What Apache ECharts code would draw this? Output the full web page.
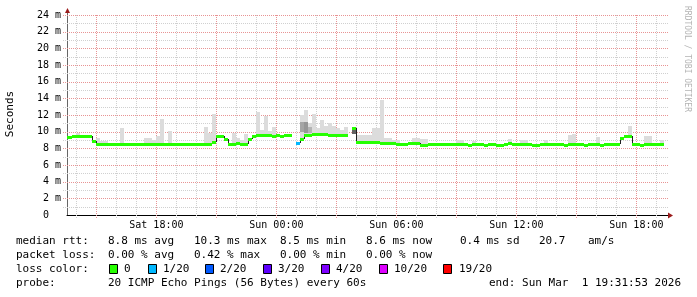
<!DOCTYPE html>
<html><head><meta charset="utf-8">
<script src="https://cdn.jsdelivr.net/npm/echarts@6/dist/echarts.min.js"></script>
<style>html,body{margin:0;padding:0;background:#fff;}#c{width:697px;height:297px;}</style>
</head><body><div id="c"></div>
<script>
// ---- time frame (hours since Sat 00:00) ----
const startHour = 13.4;        // first 12-minute bin (Sat 13:24)
const binHours = 0.2;          // 12 minutes per bin
const viewStart = 13 + 31/60 + 53/3600;
const viewEnd = viewStart + 30;

// ---- median RTT per bin (ms) ----
const median = [
 9.4,9.4,9.5,9.5,9.45,9.45,9.45,8.9,8.55,8.55,
 8.55,8.55,8.55,8.55,8.55,8.55,8.55,8.55,8.55,8.55,
 8.55,8.55,8.55,8.55,8.55,8.55,8.55,8.55,8.55,8.55,
 8.55,8.55,8.55,8.55,8.55,8.55,8.55,8.75,9.5,9.5,
 9.15,8.55,8.55,8.65,8.5,8.5,9.15,9.45,9.65,9.65,
 9.6,9.6,9.5,9.55,9.5,9.55,9.55,null,8.6,9.15,
 9.6,9.6,9.7,9.7,9.7,9.7,9.65,9.65,9.6,9.6,
 9.6,null,10.4,8.75,8.75,8.75,8.75,8.75,8.75,8.6,
 8.6,8.6,8.6,8.55,8.55,8.55,8.6,8.6,8.6,8.45,
 8.45,8.5,8.5,8.5,8.5,8.5,8.5,8.5,8.5,8.5,
 8.5,8.36,8.5,8.5,8.5,8.36,8.5,8.5,8.4,8.4,
 8.5,8.64,8.5,8.5,8.5,8.5,8.5,8.36,8.36,8.5,
 8.5,8.5,8.5,8.5,8.5,8.38,8.52,8.52,8.52,8.52,
 8.38,8.52,8.52,8.52,8.38,8.52,8.52,8.52,8.52,9.3,
 9.45,9.45,8.52,8.52,8.38,8.52,8.52,8.52,8.52,8.52,
 null
];
// ---- lost pings (of 20) per bin ----
const lossCount = [
 0,0,0,0,0,0,0,0,0,0, 0,0,0,0,0,0,0,0,0,0,
 0,0,0,0,0,0,0,0,0,0, 0,0,0,0,0,0,0,0,0,0,
 0,0,0,0,0,0,0,0,0,0, 0,0,0,0,0,0,0,null,1,0,
 0,0,0,0,0,0,0,0,0,0, 0,null,0,0,0,0,0,0,0,0,
 0,0,0,0,0,0,0,0,0,0, 0,0,0,0,0,0,0,0,0,0,
 0,0,0,0,0,0,0,0,0,0, 0,0,0,0,0,0,0,0,0,0,
 0,0,0,0,0,0,0,0,0,0, 0,0,0,0,0,0,0,0,0,0,
 0,0,0,0,0,0,0,0,0,0, null
];
// ---- smoke (ping spread) upper edge per bin (ms) ----
const smokeTop = [
 null,null,null,9.8,null,null,null,null,9.3,8.9,
 8.9,null,null,null,10.4,null,null,null,null,null,
 9.3,9.3,9.0,9.5,11.5,null,10.1,null,null,null,
 null,null,null,null,null,10.6,9.9,12.1,null,null,
 null,null,9.9,9.3,9.0,9.7,null,null,12.4,10.2,
 11.9,10.1,10.6,null,null,null,null,null,null,12.0,
 12.6,11.0,12.1,10.5,11.4,10.7,11.0,10.7,10.5,10.2,
 10.6,null,null,9.6,9.6,9.6,9.6,10.4,10.4,13.8,
 9.3,9.3,9.0,9.0,null,null,null,9.3,9.3,9.1,
 9.1,null,null,null,null,null,null,null,9.0,9.0,
 null,null,8.9,null,null,null,null,null,null,null,
 null,9.1,null,null,8.95,8.95,null,null,null,null,
 8.95,null,null,null,null,null,9.6,9.7,null,null,
 null,null,null,9.35,null,null,null,null,null,null,
 null,10.7,null,null,null,9.5,9.5,null,null,9.0,
 null
];
// ---- dense smoke (darker) ----
const darkIdx  = [59, 60, 61, 72];
const darkLow  = [10.0, 9.8, 9.8, 9.7];
const darkHigh = [11.2, 11.2, 10.6, 10.4];
const darkShade = [0.3, 0.4, 0.2, 0.75];

// ---- axes ----
const xLabelHours = [18, 24, 30, 36, 42];
const xLabelText = ['Sat 18:00', 'Sun 00:00', 'Sun 06:00', 'Sun 12:00', 'Sun 18:00'];

// ---- legend / stats text ----
const rttStats = ['8.8 ms avg', '10.3 ms max', '8.5 ms min', '8.6 ms now', '0.4 ms sd', '20.7', 'am/s'];
const lossStats = ['0.00 % avg', '0.42 % max', '0.00 % min', '0.00 % now'];
const lossLevels = [0, 1, 2, 3, 4, 10, 19];
const lossLabels = ['0', '1/20', '2/20', '3/20', '4/20', '10/20', '19/20'];
const probeText = '20 ICMP Echo Pings (56 Bytes) every 60s';
const endText = 'end: Sun Mar  1 19:31:53 2026';

// ---- styles / layout ----
const lossColors = ['#26ff00', '#00b8ff', '#0059ff', '#5e00ff', '#7e00ff', '#dd00ff', '#ff0000'];
const MONO = 'DejaVu Sans Mono';
const statX = [108, 194, 280, 366, 460, 539, 588];
const boxX = [109, 148, 205, 263, 321, 379, 443];
const lossLabelX = [124, 163, 220, 278, 336, 394, 459];
const rowY = [241, 255, 269, 283];

function lossColor(c) {
  let k = 0;
  for (let i = 0; i < lossLevels.length; i++) if (c >= lossLevels[i]) k = i;
  return lossColors[k];
}

const medianItems = [], smokeItems = [], darkItems = [];
median.forEach((m, i) => {
  if (m == null) return;
  const t0 = startHour + i * binHours;
  const prev = (i > 0 && median[i - 1] != null) ? median[i - 1] : '-';
  medianItems.push([t0, t0 + binHours, m, prev, lossCount[i]]);
  if (smokeTop[i] != null) smokeItems.push([t0, t0 + binHours, m, smokeTop[i]]);
});
darkIdx.forEach((idx, k) => {
  const t0 = startHour + idx * binHours;
  darkItems.push([t0, t0 + binHours, darkLow[k], darkHigh[k], darkShade[k]]);
});

const gridItems = [];
for (let v = 1; v < 24; v++) gridItems.push([0, v, v % 2 === 0 ? 1 : 0]);
gridItems.push([0, 24, 1]);
for (let h = Math.ceil(viewStart); h < viewEnd; h++) gridItems.push([1, h, h % 3 === 0 ? 1 : 0]);

function clampT(a, b) { return [Math.max(a, viewStart), Math.min(b, viewEnd)]; }

function gridRender(params, api) {
  const kind = api.value(0), v = api.value(1), major = api.value(2);
  let shape;
  if (kind === 0) {
    const p = api.coord([viewStart, v]), q = api.coord([viewEnd, v]);
    const y = Math.round(p[1]) + 0.5;
    shape = { x1: Math.round(p[0]) - 4, y1: y, x2: Math.round(q[0]) + 1, y2: y };
  } else {
    const p = api.coord([v, 0]), q = api.coord([v, 24]);
    const x = Math.round(p[0]) + 0.5;
    shape = { x1: x, y1: Math.round(p[1]) + 3, x2: x, y2: Math.round(q[1]) };
  }
  return { type: 'line', shape, style: { stroke: major ? '#e89494' : '#d0d0d0', lineWidth: 1, lineDash: [1, 1] } };
}

function smokeRender(params, api) {
  const [t0, t1] = clampT(api.value(0), api.value(1));
  if (t1 <= t0) return;
  const a = api.coord([t0, api.value(3)]), b = api.coord([t1, api.value(2)]);
  const x0 = Math.round(a[0]), x1 = Math.round(b[0]);
  const yTop = Math.round(a[1]), yBot = Math.round(b[1]);
  return { type: 'rect', shape: { x: x0, y: yTop, width: x1 - x0, height: yBot - yTop }, style: { fill: '#dcdcdc' } };
}

function darkRender(params, api) {
  const [t0, t1] = clampT(api.value(0), api.value(1));
  const a = api.coord([t0, api.value(3)]), b = api.coord([t1, api.value(2)]);
  const s = api.value(4);
  const g = Math.round(210 - 150 * s);
  const x0 = Math.round(a[0]), x1 = Math.round(b[0]);
  const yTop = Math.round(a[1]), yBot = Math.round(b[1]);
  return { type: 'rect', shape: { x: x0, y: yTop, width: x1 - x0, height: yBot - yTop }, style: { fill: 'rgb(' + g + ',' + g + ',' + g + ')' } };
}

function medianRender(params, api) {
  const rawT0 = api.value(0);
  const [t0, t1] = clampT(rawT0, api.value(1));
  if (t1 <= t0) return;
  const m = api.value(2), pm = api.value(3), lc = api.value(4);
  const a = api.coord([t0, m]), b = api.coord([t1, m]);
  const x0 = Math.round(a[0]), x1 = Math.round(b[0]);
  const y = Math.round(a[1]);
  const children = [];
  if (!isNaN(pm) && rawT0 >= viewStart) {
    const yp = Math.round(api.coord([t0, pm])[1]);
    children.push({ type: 'line', shape: { x1: x0 + 0.5, y1: yp, x2: x0 + 0.5, y2: y }, style: { stroke: '#202020', lineWidth: 1 } });
  }
  children.push({ type: 'rect', shape: { x: x0, y: y - 1, width: x1 - x0, height: 3 }, style: { fill: lossColor(lc) } });
  return { type: 'group', children };
}

const chart = echarts.init(document.getElementById('c'), null, { renderer: 'canvas', width: 697, height: 297 });

const textStyleBase = { fontFamily: MONO, fontSize: 11, fill: '#000' };
const graphics = [];
function addText(x, y, text, align) {
  graphics.push({ type: 'text', x, y, silent: true, style: Object.assign({ text, textVerticalAlign: 'middle', textAlign: align || 'left' }, textStyleBase) });
}
addText(16, rowY[0], 'median rtt:');
rttStats.forEach((t, i) => addText(statX[i], rowY[0], t));
addText(16, rowY[1], 'packet loss:');
lossStats.forEach((t, i) => addText(statX[i], rowY[1], t));
addText(16, rowY[2], 'loss color:');
lossLabels.forEach((t, i) => {
  graphics.push({ type: 'rect', silent: true, shape: { x: boxX[i] + 0.5, y: rowY[2] - 4.5, width: 8, height: 9 }, style: { fill: lossColors[i], stroke: '#000', lineWidth: 1 } });
  addText(lossLabelX[i], rowY[2], t);
});
addText(16, rowY[3], 'probe:');
addText(statX[0], rowY[3], probeText);
addText(681, rowY[3], endText, 'right');
// axis title
graphics.push({ type: 'text', x: 10, y: 114, rotation: Math.PI / 2, silent: true, style: { text: 'Seconds', fontFamily: MONO, fontSize: 11, fill: '#000', textAlign: 'center', textVerticalAlign: 'middle' } });
// watermark
graphics.push({ type: 'text', x: 687, y: 59, rotation: -Math.PI / 2, silent: true, style: { text: 'RRDTOOL / TOBI OETIKER', fontFamily: MONO, fontSize: 8, fill: '#b4b4b4', textAlign: 'center', textVerticalAlign: 'middle' } });

chart.setOption({
  animation: false,
  backgroundColor: '#ffffff',
  grid: { left: 67, top: 15, right: 30, bottom: 82, outerBoundsMode: 'none', containLabel: false },
  xAxis: {
    type: 'value', min: viewStart, max: viewEnd,
    axisLine: { show: true, onZero: false, lineStyle: { color: '#000', width: 1 } },
    axisTick: { show: false }, splitLine: { show: false },
    axisLabel: {
      customValues: xLabelHours, hideOverlap: false,
      formatter: v => { const k = xLabelHours.findIndex(h => Math.abs(h - v) < 1e-6); return k >= 0 ? xLabelText[k] : ''; },
      fontFamily: MONO, fontSize: 10, color: '#000', margin: 5
    }
  },
  yAxis: {
    type: 'value', min: 0, max: 24, interval: 2,
    axisLine: { show: true, lineStyle: { color: '#666', width: 1 } },
    axisTick: { show: false }, splitLine: { show: false },
    axisLabel: { formatter: v => v === 0 ? '0  ' : v + ' m', fontFamily: MONO, fontSize: 10, color: '#000', margin: 6 }
  },
  series: [
    { type: 'custom', name: 'grid', z: 1, silent: true, renderItem: gridRender, data: gridItems },
    { type: 'custom', name: 'smoke', z: 2, silent: true, renderItem: smokeRender, data: smokeItems },
    { type: 'custom', name: 'dense', z: 3, silent: true, renderItem: darkRender, data: darkItems },
    { type: 'custom', name: 'median', z: 4, silent: true, renderItem: medianRender, data: medianItems }
  ],
  graphic: graphics
});

// axis arrows, placed from the axis scales
const pTop = chart.convertToPixel({ gridIndex: 0 }, [viewStart, 24]);
const pEnd = chart.convertToPixel({ gridIndex: 0 }, [viewEnd, 0]);
const ax = Math.round(pTop[0]) + 0.5, ay = Math.round(pEnd[1]) + 0.5;
const extra = [
  { type: 'line', silent: true, shape: { x1: ax, y1: pTop[1], x2: ax, y2: pTop[1] - 3 }, style: { stroke: '#666', lineWidth: 1 } },
  { type: 'polygon', silent: true, shape: { points: [[ax - 2.5, pTop[1] - 2], [ax + 2.5, pTop[1] - 2], [ax, pTop[1] - 7]] }, style: { fill: '#9b1b1b' } },
  { type: 'line', silent: true, shape: { x1: pEnd[0], y1: ay, x2: pEnd[0] + 2, y2: ay }, style: { stroke: '#000', lineWidth: 1 } },
  { type: 'polygon', silent: true, shape: { points: [[pEnd[0] + 1, ay - 3], [pEnd[0] + 1, ay + 3], [pEnd[0] + 6, ay]] }, style: { fill: '#9b1b1b' } }
];
chart.setOption({ graphic: graphics.concat(extra) });
</script>
</body></html>
